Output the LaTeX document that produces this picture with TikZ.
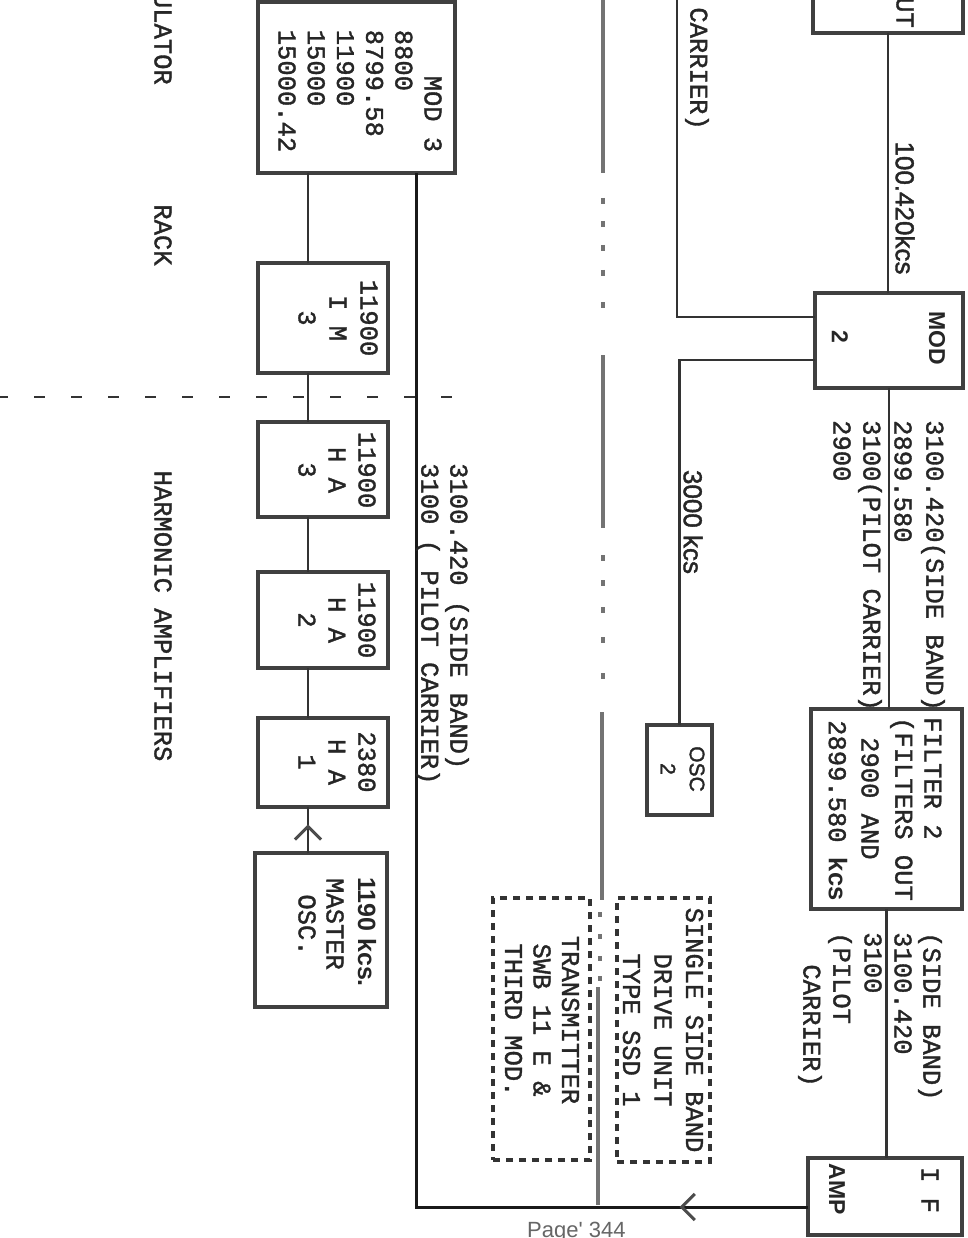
\documentclass[tikz,border=0pt]{standalone}
\usepackage{fontspec}
\newfontfamily\monof[FakeBold=1.4]{Liberation Mono}
\newfontfamily\sansf{Liberation Sans}
\newfontfamily\sansm[FakeBold=1.6]{Liberation Sans}
\usetikzlibrary{arrows.meta,decorations.markings}
\begin{document}
\begin{tikzpicture}[x=1pt,y=-1pt,
  box/.style={draw=black!75,line width=4pt,fill=white,inner sep=0pt,outer sep=0pt},
  dotbox/.style={draw=black!80,line width=4pt,dash pattern=on 7pt off 6pt,inner sep=0pt,outer sep=0pt},
  conn/.style={draw=black!80,line width=2.2pt},
  mainln/.style={draw=black!90,line width=3pt},
  gline/.style={draw=black!55,line width=4.5pt},
  txt/.style={rotate=-90,inner sep=0pt,font=\monof\fontsize{25.5}{30}\selectfont,text=black!85},
  stxt/.style={rotate=-90,inner sep=0pt,font=\sansf\bfseries\fontsize{23}{26}\selectfont,text=black!85},
  rtxt/.style={rotate=-90,inner sep=0pt,font=\sansm\fontsize{26}{28}\selectfont,text=black!85},
  midarrow/.style={postaction={decorate},decoration={markings,mark=at position #1 with {\arrow[black!70]{Straight Barb[length=13pt,width=26pt,line width=3pt]}}}}
]
\fill[white] (0,0) rectangle (967,1238);
\useasboundingbox (0,0) rectangle (967,1238);

% boxes
\node[box,minimum width=197pt,minimum height=171pt] (mod3) at (356.5,87.5) {};
\node[box,minimum width=130pt,minimum height=110pt] (im3) at (323,318) {};
\node[box,minimum width=130pt,minimum height=95pt] (ha3) at (323,469.5) {};
\node[box,minimum width=130pt,minimum height=96pt] (ha2) at (323,620) {};
\node[box,minimum width=130pt,minimum height=89pt] (ha1) at (323,762.5) {};
\node[box,minimum width=132pt,minimum height=154pt] (mosc) at (321,930) {};
\node[box,minimum width=150pt,minimum height=73pt] (outbox) at (888,-3.5) {};
\node[box,minimum width=148pt,minimum height=95pt] (mod2) at (889,340.5) {};
\node[box,minimum width=65pt,minimum height=90pt] (osc2) at (679.5,770) {};
\node[box,minimum width=151pt,minimum height=200pt] (filter) at (886.5,809) {};
\node[box,minimum width=154pt,minimum height=77pt] (ifamp) at (885,1196.5) {};
\node[dotbox,minimum width=93pt,minimum height=264pt] (ssd) at (663.5,1030) {};
\node[dotbox,minimum width=97pt,minimum height=262pt] (tx) at (541.5,1029) {};

% helper coordinates
\coordinate (xL) at (308,0);
\coordinate (xM) at (416,0);
\coordinate (yA) at (0,317);
\coordinate (yB) at (0,360);
\coordinate (yR) at (0,1207);
\coordinate (ptop) at (677,-20);
\coordinate (dl1) at (-3,397);
\coordinate (dl2) at (478,397);

% connectors
\draw[conn] (outbox.south) -- (outbox.south |- mod2.north);
\draw[conn] (mod2.south) -- (mod2.south |- filter.north);
\draw[conn] (filter.south) -- (filter.south |- ifamp.north);
\draw[conn] (mod2.west |- yA) -| (ptop);
\draw[conn] (mod2.west |- yB) -| (osc2.north);
\draw[mainln,midarrow=0.09] (ifamp.west |- yR) -| (mod3.south -| xM);
\draw[conn] (mod3.south -| xL) -- (im3.north -| xL);
\draw[conn] (im3.south -| xL) -- (ha3.north -| xL);
\draw[conn] (ha3.south -| xL) -- (ha2.north -| xL);
\draw[conn] (ha2.south -| xL) -- (ha1.north -| xL);
\draw[conn,midarrow=0.62] (mosc.north -| xL) -- (ha1.south -| xL);
\draw[conn,dash pattern=on 11pt off 26pt] (dl1) -- (dl2);

% grey dash-dot separation line
\draw[gline] (603,-5) -- (603,173);
\foreach \a in {198,221,245,270,302} \draw[gline] (603,\a) -- (603,\a+6);
\draw[gline] (603,355) -- (603,528);
\foreach \a in {555,580,607,637,673} \draw[gline] (603,\a) -- (603,\a+6);
\draw[gline] (602,712) -- (602,900);
\foreach \a in {912,934,956,976} \draw[gline] (600,\a) -- (600,\a+5);
\draw[gline] (598,987) -- (598,1205);

% left labels
\node[txt,anchor=east] (tmodl) at (163,85) {MODULATOR};
\node[txt] (track) at (163,235) {RACK};
\node[txt] (tharm) at (163,616) {HARMONIC AMPLIFIERS};

% MOD 3 chain
\node[txt,align=left,font=\monof\fontsize{25.5}{29.2}\selectfont] (tmod3) at (360,91)
  {\phantom{000}MOD 3\\8800\\8799.58\\11900\\15000\\15000.42};
\node[txt,align=center,font=\monof\fontsize{25.5}{31}\selectfont] (tim3) at (338,318) {11900\\I M\\3};
\node[txt,align=center,font=\monof\fontsize{25.5}{30}\selectfont] (tha3) at (337,470) {11900\\H A\\3};
\node[txt,align=center,font=\monof\fontsize{25.5}{30}\selectfont] (tha2) at (337,620) {11900\\H A\\2};
\node[txt,align=center,font=\monof\fontsize{25.5}{30}\selectfont] (tha1) at (337,762) {2380\\H A\\1};
\node[stxt,font=\sansf\bfseries\fontsize{25}{28}\selectfont] (tmo1) at (367,932) {1190 kcs.};
\node[txt] (tmo2) at (335,924) {MASTER};
\node[txt] (tmo3) at (307,925) {OSC.};

\node[txt,anchor=west] (tl1) at (457,463) {3100.420 (SIDE BAND)};
\node[txt,anchor=west] (tl2) at (428,463) {3100 ( PILOT CARRIER)};

% top right
\node[txt,anchor=east] (tout) at (905,28) {OUTPUT};
\node[txt,anchor=east] (tcar1) at (697,130) {CARRIER)};
\node[rtxt] (t100) at (905,208) {100.420kcs};
\node[stxt] (tmod) at (937,338) {MOD};
\node[stxt] (t2) at (840,337) {2};
\node[rtxt] (t3000) at (693,522) {3000 kcs};
\node[rtxt,font=\sansm\fontsize{21}{24}\selectfont] (tosc) at (697,769) {OSC};
\node[rtxt,font=\sansm\fontsize{21}{24}\selectfont] (tosc2) at (668,769) {2};

\node[txt,anchor=west] (tm1) at (933,420) {3100.420(SIDE BAND)};
\node[txt,anchor=west] (tm2) at (903,420) {2899.580};
\node[txt,anchor=west] (tm3) at (870,420) {3100(PILOT CARRIER)};
\node[txt,anchor=west] (tm4) at (842,420) {2900};

\node[txt,anchor=west] (tf1) at (933,717) {FILTER 2};
\node[txt,anchor=west] (tf2) at (902,717) {(FILTERS OUT};
\node[txt,anchor=west] (tf3) at (870,737) {2900 AND};
\node[txt,anchor=west] (tf4) at (838,720) {2899.580 {\sansf\bfseries kcs}};

\node[txt,anchor=west] (ta1) at (930,932) {(SIDE BAND)};
\node[txt,anchor=west] (ta2) at (903,932) {3100.420};
\node[txt,anchor=west] (ta3) at (873,932) {3100};
\node[txt,anchor=west] (ta4) at (840,932) {(PILOT};
\node[txt,anchor=east] (ta5) at (810,1087) {CARRIER)};

\node[txt] (tif) at (930,1190) {I F};
\node[stxt] (tamp) at (837,1189) {AMP};

\node[txt,align=center,font=\monof\fontsize{25.5}{31.5}\selectfont] (tssd) at (663,1030)
  {SINGLE SIDE BAND\\DRIVE UNIT\\TYPE SSD 1};
\node[txt,align=center,font=\monof\fontsize{25.5}{28.5}\selectfont] (ttx) at (542,1020)
  {TRANSMITTER\\SWB 11 E \&\\THIRD MOD.};

\node[anchor=north west,inner sep=0pt,font=\sansf\fontsize{22}{26}\selectfont,text=black!60] (page) at (527,1222) {Page' 344};
\end{tikzpicture}
\end{document}
